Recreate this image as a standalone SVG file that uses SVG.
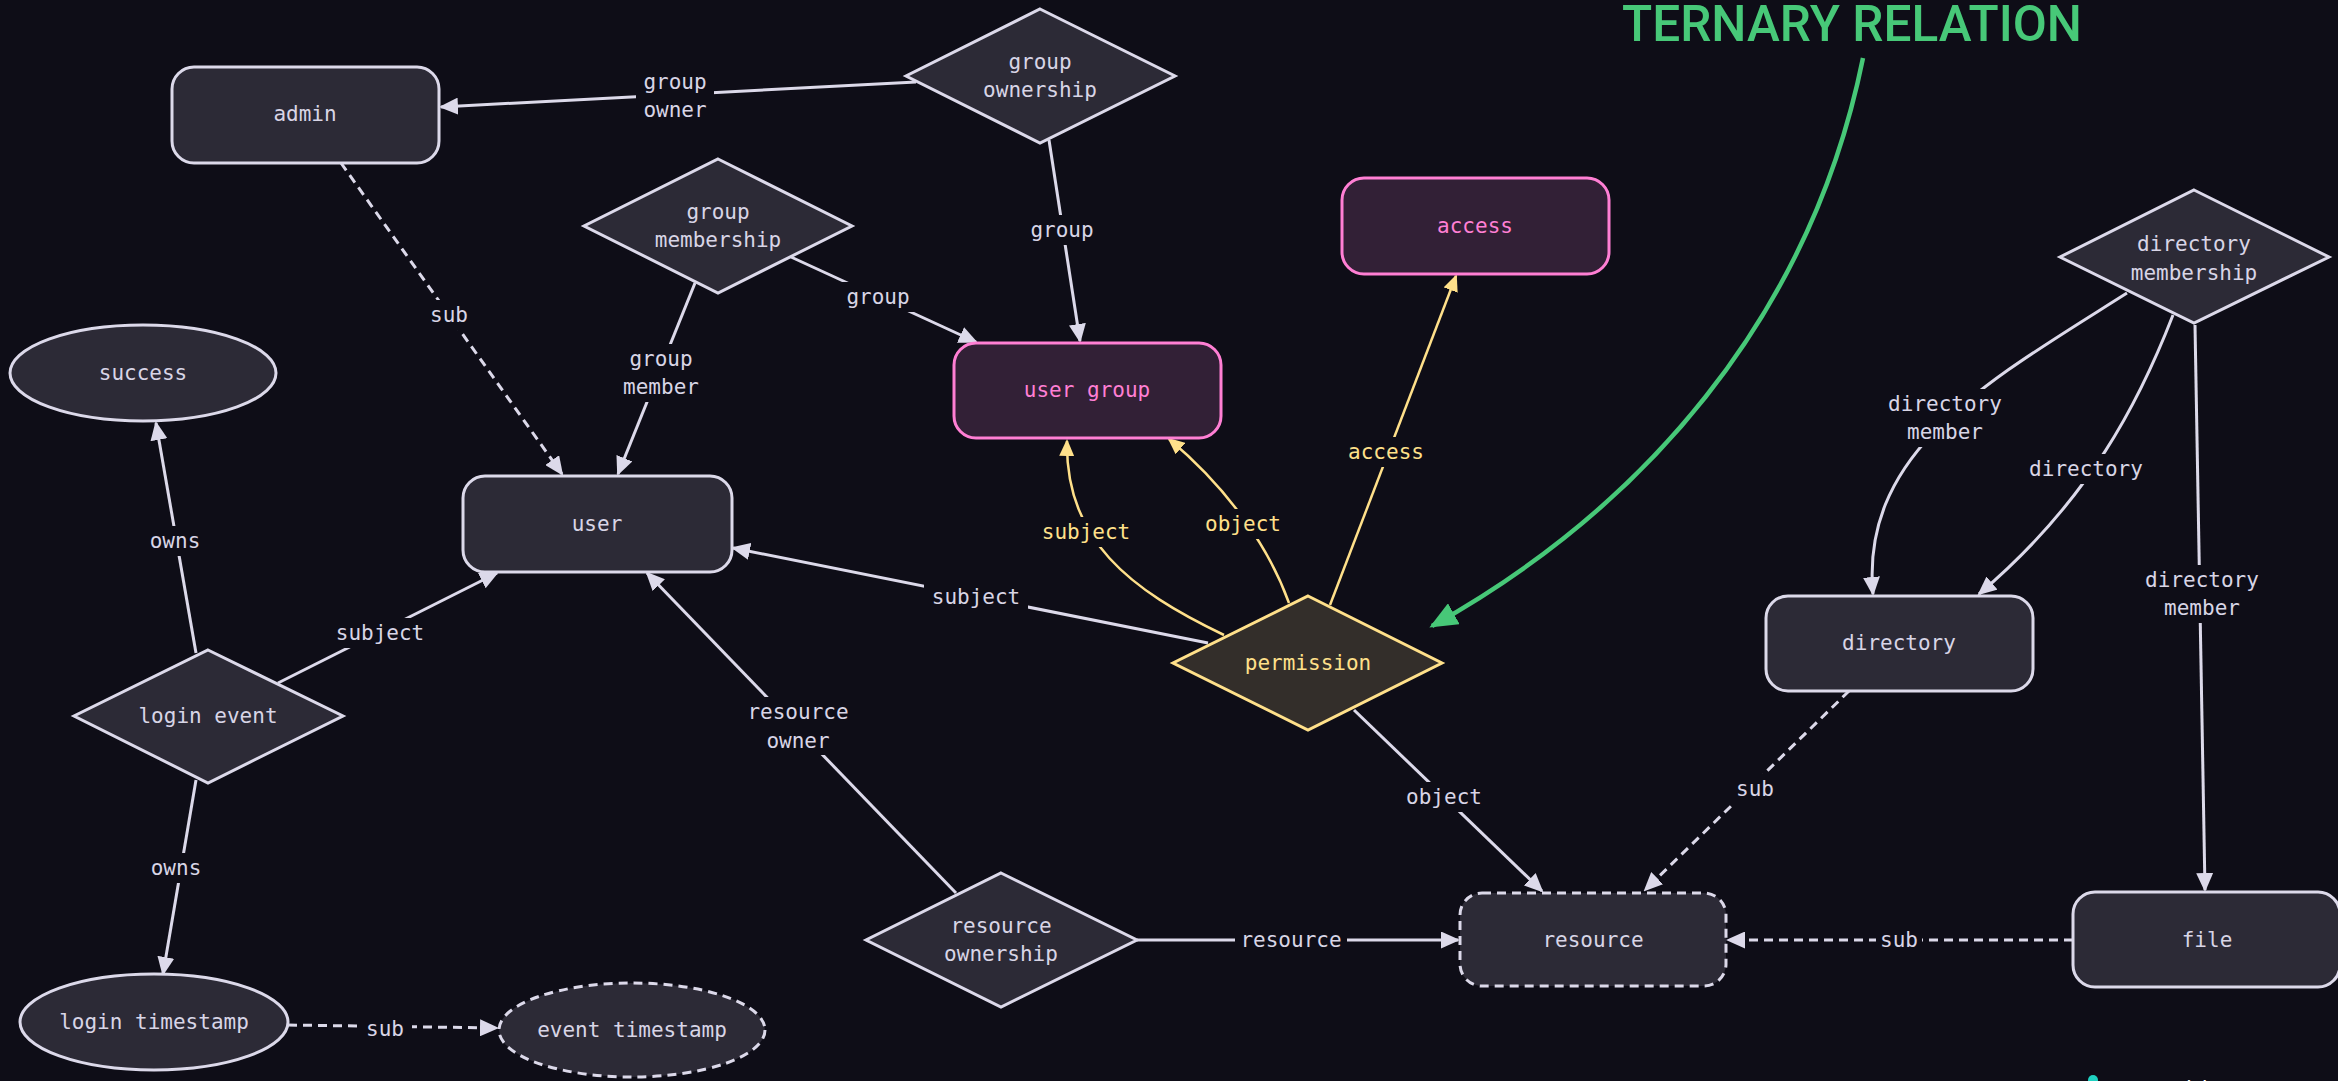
<svg xmlns="http://www.w3.org/2000/svg" width="2338" height="1081" viewBox="0 0 2338 1081">
<style>
.bg{fill:#0e0d17}
.n{fill:#2c2a36;stroke:#dcd9ea;stroke-width:3}
.dash{stroke-dasharray:9 6}
.pk{fill:#322036;stroke:#ff7fd4;stroke-width:3}
.yl{fill:#332e2a;stroke:#ffe08a;stroke-width:3}
.t{font-family:"DejaVu Sans Mono","Liberation Mono",monospace;font-size:21px;fill:#d8d5e6;text-anchor:middle}
.tp{fill:#ff7fd4}
.ty{fill:#ffe08a}
.e{fill:none;stroke:#dcd9ea;stroke-width:3}
.ey{fill:none;stroke:#ffe08a;stroke-width:2.5}
.lb{fill:#0e0d17}
</style>
<defs>
<marker id="ag" markerUnits="userSpaceOnUse" markerWidth="19" markerHeight="17" refX="17" refY="8.5" orient="auto" viewBox="0 0 19 17"><path d="M0,0 L19,8.5 L0,17 z" fill="#dcd9ea"/></marker>
<marker id="ay" markerUnits="userSpaceOnUse" markerWidth="17" markerHeight="15" refX="15" refY="7.5" orient="auto" viewBox="0 0 17 15"><path d="M0,0 L17,7.5 L0,15 z" fill="#ffe08a"/></marker>
<marker id="agr" markerUnits="userSpaceOnUse" markerWidth="28" markerHeight="24" refX="25" refY="12" orient="auto" viewBox="0 0 28 24"><path d="M0,0 L28,12 L0,24 z" fill="#47c878"/></marker>
</defs>
<rect class="bg" x="0" y="0" width="2338" height="1081"/>

<g id="connectors">
<line class="e" x1="916" y1="82" x2="441" y2="107" marker-end="url(#ag)"/>
<line class="e dash" x1="341" y1="163" x2="562" y2="474" marker-end="url(#ag)"/>
<line class="e" x1="695" y1="283" x2="618" y2="474" marker-end="url(#ag)"/>
<line class="e" x1="791" y1="257" x2="976" y2="342" marker-end="url(#ag)"/>
<line class="e" x1="1049" y1="140" x2="1080" y2="341" marker-end="url(#ag)"/>
<path class="ey" d="M1224,635 C1130,590 1065,540 1067,441" marker-end="url(#ay)"/>
<path class="ey" d="M1289,603 C1270,550 1230,490 1169,439" marker-end="url(#ay)"/>
<line class="ey" x1="1330" y1="605" x2="1456" y2="276" marker-end="url(#ay)"/>
<line class="e" x1="1208" y1="643" x2="733" y2="548" marker-end="url(#ag)"/>
<line class="e" x1="956" y1="893" x2="647" y2="573" marker-end="url(#ag)"/>
<line class="e" x1="1354" y1="710" x2="1542" y2="891" marker-end="url(#ag)"/>
<line class="e" x1="1137" y1="940" x2="1458" y2="940" marker-end="url(#ag)"/>
<line class="e dash" x1="1849" y1="691" x2="1645" y2="890" marker-end="url(#ag)"/>
<line class="e dash" x1="2073" y1="940" x2="1728" y2="940" marker-end="url(#ag)"/>
<path class="e" d="M2127,293 C1990,380 1860,450 1873,594" marker-end="url(#ag)"/>
<path class="e" d="M2173,315 C2140,400 2090,500 1979,594" marker-end="url(#ag)"/>
<line class="e" x1="2195" y1="325" x2="2205" y2="890" marker-end="url(#ag)"/>
<line class="e" x1="196" y1="653" x2="156" y2="423" marker-end="url(#ag)"/>
<line class="e" x1="278" y1="683" x2="497" y2="573" marker-end="url(#ag)"/>
<line class="e" x1="196" y1="780" x2="163" y2="974" marker-end="url(#ag)"/>
<line class="e dash" x1="288" y1="1025" x2="497" y2="1028" marker-end="url(#ag)"/>
<path d="M1863,58 C1810,320 1640,510 1432,626" fill="none" stroke="#47c878" stroke-width="4.5" marker-end="url(#agr)"/>
</g>

<g id="edge-labels">
<rect class="lb" x="636" y="66" width="78" height="60"/>
<text class="t" x="675" y="89">group</text><text class="t" x="675" y="117">owner</text>
<rect class="lb" x="426" y="300" width="46" height="30"/>
<text class="t" x="449" y="322">sub</text>
<rect class="lb" x="620" y="344" width="82" height="58"/>
<text class="t" x="661" y="366">group</text><text class="t" x="661" y="394">member</text>
<rect class="lb" x="840" y="282" width="76" height="30"/>
<text class="t" x="878" y="304">group</text>
<rect class="lb" x="1024" y="215" width="76" height="30"/>
<text class="t" x="1062" y="237">group</text>
<rect class="lb" x="1034" y="517" width="104" height="30"/>
<text class="t ty" x="1086" y="539">subject</text>
<rect class="lb" x="1198" y="509" width="90" height="30"/>
<text class="t ty" x="1243" y="531">object</text>
<rect class="lb" x="1341" y="437" width="90" height="30"/>
<text class="t ty" x="1386" y="459">access</text>
<rect class="lb" x="924" y="582" width="104" height="30"/>
<text class="t" x="976" y="604">subject</text>
<rect class="lb" x="742" y="697" width="112" height="58"/>
<text class="t" x="798" y="719">resource</text><text class="t" x="798" y="748">owner</text>
<rect class="lb" x="1399" y="782" width="90" height="30"/>
<text class="t" x="1444" y="804">object</text>
<rect class="lb" x="1235" y="925" width="112" height="30"/>
<text class="t" x="1291" y="947">resource</text>
<rect class="lb" x="1732" y="774" width="46" height="30"/>
<text class="t" x="1755" y="796">sub</text>
<rect class="lb" x="1876" y="925" width="46" height="30"/>
<text class="t" x="1899" y="947">sub</text>
<rect class="lb" x="1881" y="389" width="128" height="58"/>
<text class="t" x="1945" y="411">directory</text><text class="t" x="1945" y="439">member</text>
<rect class="lb" x="2026" y="454" width="120" height="30"/>
<text class="t" x="2086" y="476">directory</text>
<rect class="lb" x="2138" y="565" width="128" height="58"/>
<text class="t" x="2202" y="587">directory</text><text class="t" x="2202" y="615">member</text>
<rect class="lb" x="145" y="526" width="60" height="30"/>
<text class="t" x="175" y="548">owns</text>
<rect class="lb" x="328" y="618" width="104" height="30"/>
<text class="t" x="380" y="640">subject</text>
<rect class="lb" x="146" y="853" width="60" height="30"/>
<text class="t" x="176" y="875">owns</text>
<rect class="lb" x="358" y="1014" width="54" height="30"/>
<text class="t" x="385" y="1036">sub</text>
</g>

<g id="admin"><rect class="n" x="172" y="67" width="267" height="96" rx="22"/><text class="t" x="305" y="121">admin</text></g>
<g id="group-ownership"><polygon class="n" points="1040,9 1175,76 1040,143 906,76"/><text class="t" x="1040" y="69">group</text><text class="t" x="1040" y="97">ownership</text></g>
<g id="group-membership"><polygon class="n" points="718,159 852,226 718,293 584,226"/><text class="t" x="718" y="219">group</text><text class="t" x="718" y="247">membership</text></g>
<g id="success"><ellipse class="n" cx="143" cy="373" rx="133" ry="48"/><text class="t" x="143" y="380">success</text></g>
<g id="user"><rect class="n" x="463" y="476" width="269" height="96" rx="22"/><text class="t" x="597" y="531">user</text></g>
<g id="user-group"><rect class="pk" x="954" y="343" width="267" height="95" rx="22"/><text class="t tp" x="1087" y="397">user group</text></g>
<g id="access"><rect class="pk" x="1342" y="178" width="267" height="96" rx="22"/><text class="t tp" x="1475" y="233">access</text></g>
<g id="directory-membership"><polygon class="n" points="2194,190 2329,257 2194,323 2060,257"/><text class="t" x="2194" y="251">directory</text><text class="t" x="2194" y="280">membership</text></g>
<g id="login-event"><polygon class="n" points="208,650 343,716 208,783 74,716"/><text class="t" x="208" y="723">login event</text></g>
<g id="login-timestamp"><ellipse class="n" cx="154" cy="1022" rx="134" ry="48"/><text class="t" x="154" y="1029">login timestamp</text></g>
<g id="event-timestamp"><ellipse class="n dash" cx="632" cy="1030" rx="133" ry="47"/><text class="t" x="632" y="1037">event timestamp</text></g>
<g id="permission"><polygon class="yl" points="1308,596 1442,663 1308,730 1173,663"/><text class="t ty" x="1308" y="670">permission</text></g>
<g id="resource-ownership"><polygon class="n" points="1001,873 1137,940 1001,1007 866,940"/><text class="t" x="1001" y="933">resource</text><text class="t" x="1001" y="961">ownership</text></g>
<g id="resource"><rect class="n dash" x="1460" y="893" width="266" height="93" rx="22"/><text class="t" x="1593" y="947">resource</text></g>
<g id="directory"><rect class="n" x="1766" y="596" width="267" height="95" rx="22"/><text class="t" x="1899" y="650">directory</text></g>
<g id="file"><rect class="n" x="2073" y="892" width="267" height="95" rx="22"/><text class="t" x="2207" y="947">file</text></g>

<g id="title"><text x="1622" y="41" font-family="Roboto,'Liberation Sans',sans-serif" font-size="50" font-weight="500" fill="#47c878" textLength="460" lengthAdjust="spacingAndGlyphs">TERNARY RELATION</text></g>
<g id="logo"><circle cx="2093" cy="1080" r="5" fill="#1fd1c1"/><text x="2155" y="1096" font-family="'Liberation Sans',sans-serif" font-size="22" fill="#ffffff">Vaticle</text></g>
</svg>
